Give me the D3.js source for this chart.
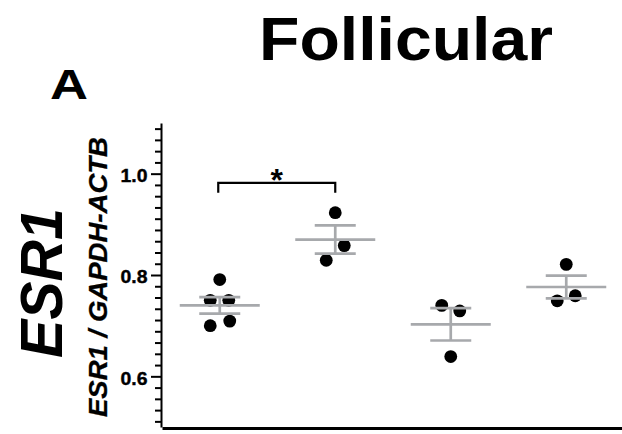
<!DOCTYPE html>
<html>
<head>
<meta charset="utf-8">
<script src="https://cdn.jsdelivr.net/npm/d3@7"></script>
<style>
  body { margin: 0; background: #fff; }
  text { font-family: "Liberation Sans", Arial, sans-serif; font-weight: bold; fill: #000; }
</style>
</head>
<body>
<div id="chart"></div>
<script>
// groups along the x axis (their labels are cut off in the figure)
const groups = ["g1", "g2", "g3", "g4"];
// ESR1 / GAPDH-ACTB, one value per sample
const values = [
  [0.791, 0.750, 0.750, 0.700, 0.709],
  [0.923, 0.858, 0.829],
  [0.740, 0.729, 0.639],
  [0.821, 0.749, 0.759]
];
// sideways spread of the dots inside a group, in px
const spread = [
  [0, -9.5, 9, -9.5, 10],
  [0, 9, -9],
  [-9, 9, 0],
  [0, -9, 9]
];
const yMajor = [0.6, 0.8, 1.0];
// significance bracket
const sig = [{from: "g1", to: "g2", y: 0.982, label: "*"}];

const margin = {top: 123, right: 0, bottom: 4, left: 162},
      width = 622 - margin.left - margin.right,
      height = 434 - margin.top - margin.bottom - 3;

const root = d3.select("#chart")
  .append("svg")
  .attr("width", 622)
  .attr("height", 434);

root.append("rect").attr("width", 622).attr("height", 434).attr("fill", "#fff");

// titles
root.append("text")
  .attr("x", 259).attr("y", 60)
  .attr("font-size", 62)
  .attr("textLength", 294).attr("lengthAdjust", "spacingAndGlyphs")
  .text("Follicular");

root.append("text")
  .attr("x", 50).attr("y", 99)
  .attr("font-size", 43)
  .attr("textLength", 38).attr("lengthAdjust", "spacingAndGlyphs")
  .text("A");

root.append("text")
  .attr("transform", "translate(62,283) rotate(-90)")
  .attr("text-anchor", "middle")
  .attr("font-size", 60)
  .attr("font-style", "italic")
  .attr("textLength", 150).attr("lengthAdjust", "spacingAndGlyphs")
  .text("ESR1");

root.append("text")
  .attr("transform", "translate(107,277) rotate(-90)")
  .attr("text-anchor", "middle")
  .attr("font-size", 26)
  .attr("font-style", "italic")
  .attr("stroke", "#000").attr("stroke-width", 0.3)
  .attr("textLength", 280).attr("lengthAdjust", "spacingAndGlyphs")
  .text("ESR1 / GAPDH-ACTB");

const svg = root.append("g")
  .attr("transform", `translate(${margin.left}, ${margin.top})`);

const x = d3.scaleBand()
  .domain(groups)
  .range([0, 462]);

const y = d3.scaleLinear()
  .domain([0.5, 1.1])
  .range([height, 0]);

// x axis: just the thick base line
svg.append("g")
  .attr("transform", `translate(0, ${height + 1})`)
  .call(d3.axisBottom(x).tickSize(0).tickSizeOuter(0).tickFormat(""))
  .call(g => g.select(".domain").attr("stroke-width", 3).attr("stroke", "#000"));

// y axis minor ticks
const minor = d3.range(-4, 23).filter(k => k % 9 !== 0).map(k => 0.6 + k * 0.2 / 9);
svg.append("g")
  .attr("transform", "translate(-1,0)")
  .call(d3.axisLeft(y).tickValues(minor).tickSize(6).tickFormat(""))
  .call(g => g.select(".domain").remove())
  .call(g => g.selectAll(".tick line").attr("stroke-width", 2));

// y axis major ticks + spine
svg.append("g")
  .attr("transform", "translate(-1,0)")
  .call(d3.axisLeft(y).tickValues(yMajor).tickSize(10).tickSizeOuter(0).tickPadding(3.5).tickFormat(d3.format(".1f")))
  .call(g => g.select(".domain").attr("stroke-width", 2).attr("stroke", "#000"))
  .call(g => g.selectAll(".tick line").attr("stroke-width", 2))
  .call(g => g.selectAll(".tick text")
    .attr("font-size", 19)
    .attr("dy", "0.42em")
    .attr("stroke", "#000").attr("stroke-width", 0.4)
    .attr("textLength", 27).attr("lengthAdjust", "spacingAndGlyphs"));

// dots
const pts = groups.flatMap((g, i) => values[i].map((v, j) => ({g: g, v: v, dx: spread[i][j]})));
svg.append("g")
  .selectAll("circle")
  .data(pts)
  .join("circle")
    .attr("cx", d => x(d.g) + x.bandwidth() / 2 + d.dx)
    .attr("cy", d => y(d.v))
    .attr("r", 6.4)
    .attr("fill", "#000");

// mean +/- SEM
const stats = groups.map((g, i) => {
  const m = d3.mean(values[i]);
  const sem = d3.deviation(values[i]) / Math.sqrt(values[i].length);
  return {g: g, mean: m, lo: m - sem, hi: m + sem};
});
const eb = svg.append("g")
  .attr("stroke", "#a7a9ac")
  .attr("stroke-width", 2.7)
  .selectAll("g")
  .data(stats)
  .join("g")
    .attr("transform", d => `translate(${x(d.g) + x.bandwidth() / 2}, 0)`);
eb.append("line").attr("x1", -40).attr("x2", 40).attr("y1", d => y(d.mean)).attr("y2", d => y(d.mean));
eb.append("line").attr("x1", 0).attr("x2", 0).attr("y1", d => y(d.lo)).attr("y2", d => y(d.hi));
eb.append("line").attr("x1", -20.5).attr("x2", 20.5).attr("y1", d => y(d.hi)).attr("y2", d => y(d.hi));
eb.append("line").attr("x1", -20.5).attr("x2", 20.5).attr("y1", d => y(d.lo)).attr("y2", d => y(d.lo));

// significance bracket
sig.forEach(s => {
  const x1 = x(s.from) + x.bandwidth() / 2 - 1.5,
        x2 = x(s.to) + x.bandwidth() / 2,
        yy = y(s.y);
  svg.append("path")
    .attr("d", `M${x1},${yy + 10}V${yy}H${x2}V${yy + 10}`)
    .attr("fill", "none")
    .attr("stroke", "#000")
    .attr("stroke-width", 2.2);
  svg.append("text")
    .attr("x", (x1 + x2) / 2)
    .attr("y", yy + 8)
    .attr("text-anchor", "middle")
    .attr("font-size", 32)
    .text(s.label);
});
</script>
</body>
</html>
